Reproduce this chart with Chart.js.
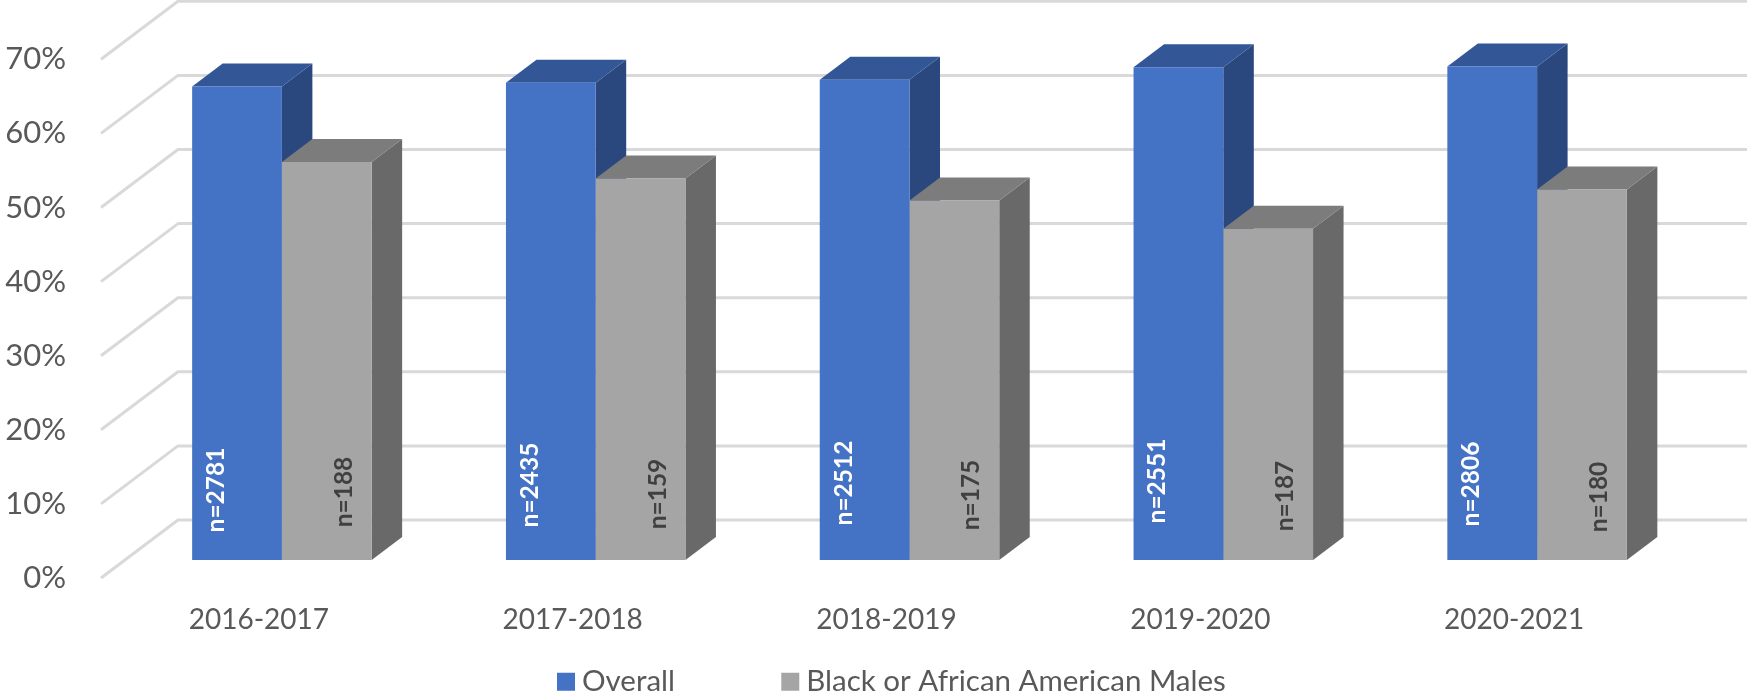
<!DOCTYPE html>
<html><head><meta charset="utf-8">
<style>html,body{margin:0;padding:0;background:#fff}#w{position:relative;width:1747px;height:696px}</style>
<script src="https://cdn.jsdelivr.net/npm/chart.js@4"></script>
</head><body><div id="w"><canvas id="c" width="1747" height="696"></canvas></div>
<script>
const categories = ['2016-2017','2017-2018','2018-2019','2019-2020','2020-2021'];
const seriesNames = ['Overall','Black or African American Males'];
const overall = [63.9,64.4,64.8,66.5,66.6];
const blackMales = [53.7,51.5,48.5,44.7,50.0];
const overallN = ['n=2781','n=2435','n=2512','n=2551','n=2806'];
const blackMalesN = ['n=188','n=159','n=175','n=187','n=180'];
const yTicks = [0,10,20,30,40,50,60,70];

// label placement and 3D styling, separate from the data
const overallLabelLift = [70,75,77,79,76];
const blackLabelLift = [68,66,65,64,63];
const DEPTH = {x:30.5,y:-23};
const BACK = {x:53,y:-40};
const FRONT = {x:-24,y:18};
const COLORS = {
  blue:{front:'#4472c4',top:'#335696',side:'#2a487e'},
  grey:{front:'#a5a5a5',top:'#7c7c7c',side:'#696969'},
  grid:'#d9d9d9',text:'#595959'
};
function poly(ctx,pts,fill){ctx.beginPath();pts.forEach((p,i)=>i?ctx.lineTo(p[0],p[1]):ctx.moveTo(p[0],p[1]));ctx.closePath();ctx.fillStyle=fill;ctx.fill();}
const threeD = {
  id:'threeD',
  afterLayout(chart){
    const l=chart.legend;
    l.left=564.75-114; l.right=1747; l.top=667-114; l.bottom=696;
  },
  beforeDatasetsDraw(chart){
    const ctx=chart.ctx,y=chart.scales.y,a=chart.chartArea;
    ctx.save();
    ctx.strokeStyle=COLORS.grid;ctx.lineWidth=3;ctx.lineJoin='round';
    yTicks.forEach(v=>{
      const p=y.getPixelForValue(v);
      ctx.beginPath();
      ctx.moveTo(a.left+FRONT.x,p+FRONT.y);
      ctx.lineTo(a.left+BACK.x,p+BACK.y);
      ctx.lineTo(chart.width,p+BACK.y);
      ctx.stroke();
    });
    const pal=[COLORS.blue,COLORS.grey];
    categories.forEach((_,i)=>{
      [0,1].forEach(d=>{
        const b=chart.getDatasetMeta(d).data[i];
        const w=b.width,l=b.x-w/2,r=b.x+w/2,t=b.y,base=b.base;
        poly(ctx,[[r,t],[r+DEPTH.x,t+DEPTH.y],[r+DEPTH.x,base+DEPTH.y],[r,base]],pal[d].side);
        poly(ctx,[[l,t],[l+DEPTH.x,t+DEPTH.y],[r+DEPTH.x,t+DEPTH.y],[r,t]],pal[d].top);
      });
    });
    ctx.restore();
  },
  afterDatasetsDraw(chart){
    const ctx=chart.ctx;
    ctx.save();
    ctx.font='bold 24.5px Lato';ctx.textAlign='center';ctx.textBaseline='middle';
    categories.forEach((_,i)=>{
      const b0=chart.getDatasetMeta(0).data[i],b1=chart.getDatasetMeta(1).data[i];
      const put=(t,x,y,c)=>{ctx.save();ctx.translate(x,y);ctx.rotate(-Math.PI/2);ctx.fillStyle=c;ctx.fillText(t,0,0);ctx.restore();};
      put(overallN[i],b0.x-b0.width/2+24,b0.base-overallLabelLift[i],'#ffffff');
      put(blackMalesN[i],b1.x-b1.width/2+62,b1.base-blackLabelLift[i],'#404040');
    });
    ctx.restore();
  }
};
Chart.defaults.font.family='Lato';
new Chart(document.getElementById('c'),{
  type:'bar',
  data:{labels:categories,datasets:[
    {label:seriesNames[0],data:overall,backgroundColor:COLORS.blue.front,barPercentage:1,categoryPercentage:0.572},
    {label:seriesNames[1],data:blackMales,backgroundColor:COLORS.grey.front,barPercentage:1,categoryPercentage:0.572}
  ]},
  options:{
    responsive:false,animation:false,
    layout:{padding:{top:41.3,right:53,left:0,bottom:0}},
    scales:{
      x:{grid:{display:false,drawTicks:false},border:{display:false},
        afterFit(s){s.height=96;},
        ticks:{color:COLORS.text,font:{size:28},padding:43,labelOffset:-23,maxRotation:0,autoSkip:false}},
      y:{min:0,max:70,grid:{display:false,drawTicks:false},border:{display:false},
        afterFit(s){s.width=125;s.paddingTop=0;s.paddingBottom=0;},
        ticks:{color:COLORS.text,font:{size:31},padding:59,stepSize:10,labelOffset:18,callback:v=>v+'%'}}
    },
    plugins:{
      tooltip:{enabled:false},
      legend:{position:'bottom',align:'start',maxHeight:40,
        labels:{color:COLORS.text,font:{size:29.5},padding:114,boxWidth:2.5,boxHeight:2.5,
          generateLabels(chart){return chart.data.datasets.map((d,i)=>({text:d.label,fillStyle:d.backgroundColor,strokeStyle:d.backgroundColor,lineWidth:15.5,datasetIndex:i,fontColor:COLORS.text}));}
        }}
    }
  },
  plugins:[threeD]
});
</script></body></html>
